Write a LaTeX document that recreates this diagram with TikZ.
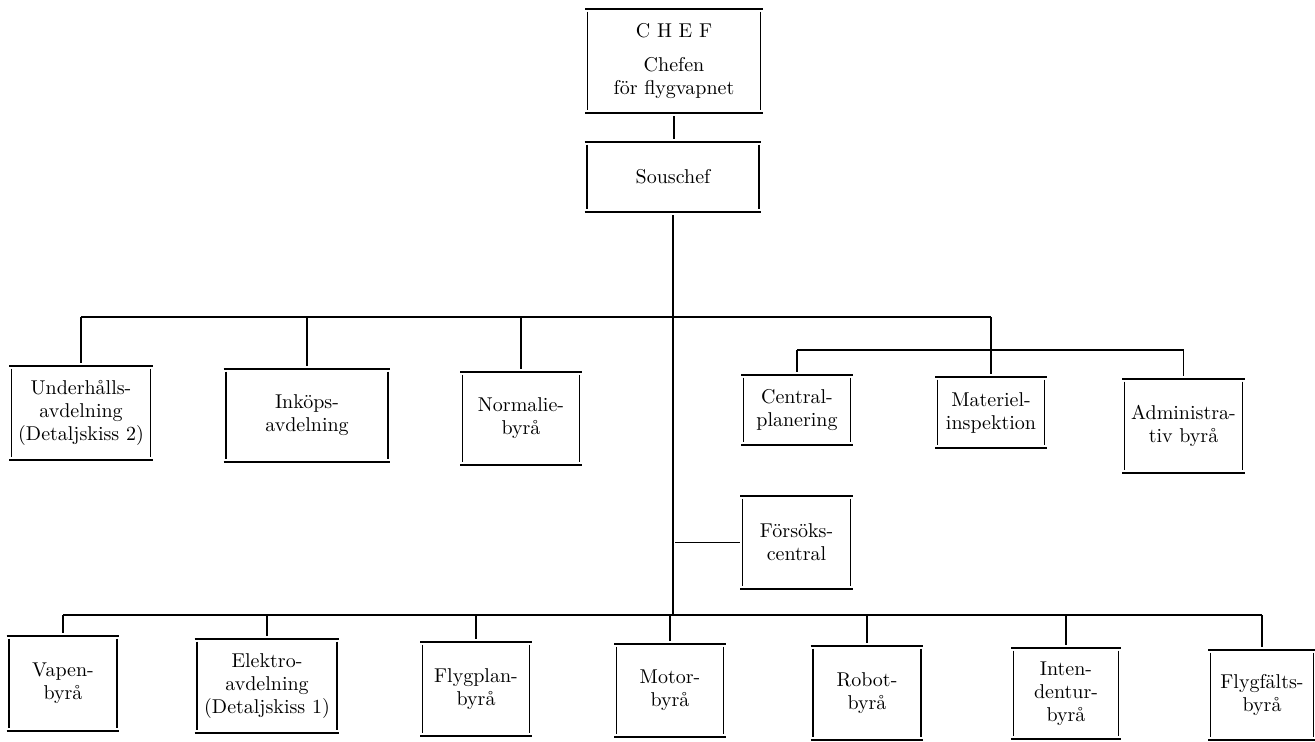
\documentclass[tikz,border=0pt]{standalone}
\usepackage{fontspec}
\begin{document}
\begin{tikzpicture}[x=0.5pt,y=-0.5pt,
  orgbox/.style={draw=none, inner sep=0pt, align=center,
    font=\fontsize{10}{11.5}\selectfont},
  hl/.style={line width=1pt},
  vl/.style={line width=0.8pt},
  conn/.style={line width=0.8pt},
  bus/.style={line width=1pt}]
\useasboundingbox (0,0) rectangle (1315,741);
% nodes
\node[orgbox, minimum width=86pt, minimum height=52pt] (chef) at (674,61) {C H E F\\[5.5pt]Chefen\\för flygvapnet};
\node[orgbox, minimum width=85.5pt, minimum height=35pt] (sous) at (673,177) {Souschef};
\node[orgbox, minimum width=69pt, minimum height=47pt] (underh) at (81,413) {Underhålls-\\avdelning\\(Detaljskiss 2)};
\node[orgbox, minimum width=80.5pt, minimum height=46.5pt] (inkop) at (307,415.5) {Inköps-\\avdelning};
\node[orgbox, minimum width=58pt, minimum height=46.5pt] (normal) at (521,418.5) {Normalie-\\byrå};
\node[orgbox, minimum width=53pt, minimum height=35pt] (central) at (797,410) {Central-\\planering};
\node[orgbox, minimum width=53pt, minimum height=35.5pt] (mat) at (991,412.5) {Materiel-\\inspektion};
\node[orgbox, minimum width=58.5pt, minimum height=47pt] (admin) at (1183.5,426) {Administra-\\tiv byrå};
\node[orgbox, minimum width=53.5pt, minimum height=46.5pt] (fors) at (796.5,542.5) {Försöks-\\central};
\node[orgbox, minimum width=53.5pt, minimum height=47.5pt] (vapen) at (63,683.5) {Vapen-\\byrå};
\node[orgbox, minimum width=69.5pt, minimum height=47pt] (elektro) at (267,686) {Elektro-\\avdelning\\(Detaljskiss 1)};
\node[orgbox, minimum width=53pt, minimum height=47pt] (flygplan) at (476,689) {Flygplan-\\byrå};
\node[orgbox, minimum width=53pt, minimum height=46.5pt] (motor) at (670,690.5) {Motor-\\byrå};
\node[orgbox, minimum width=53.5pt, minimum height=47pt] (robot) at (867,693) {Robot-\\byrå};
\node[orgbox, minimum width=52pt, minimum height=45.5pt] (intend) at (1066,693.5) {Inten-\\dentur-\\byrå};
\node[orgbox, minimum width=51pt, minimum height=45pt] (flygf) at (1262,695) {Flygfälts-\\byrå};
% box outlines: long top/bottom rules, slightly short side rules
\foreach \n in {chef,sous,underh,inkop,normal,central,mat,admin,fors,vapen,elektro,flygplan,motor,robot,intend,flygf}{
  \draw[hl] ([xshift=-1.2pt]\n.north west) -- ([xshift=1.2pt]\n.north east);
  \draw[hl] ([xshift=-1.2pt]\n.south west) -- ([xshift=1.2pt]\n.south east);
  \draw[vl] ([yshift=-1.5pt]\n.north west) -- ([yshift=1.5pt]\n.south west);
  \draw[vl] ([yshift=-1.5pt]\n.north east) -- ([yshift=1.5pt]\n.south east);
}
% bus coordinates
\coordinate (tb) at (0,317);
\coordinate (sb) at (0,350);
\coordinate (bb) at (0,615);
% chain at top
\draw[conn] ([yshift=-1.5pt]chef.south) -- ([yshift=1.5pt]chef.south |- sous.north);
\draw[conn] ([yshift=-1.5pt]sous.south) -- (sous.south |- bb);
% top bus
\draw[bus] (underh.north |- tb) -- (mat.north |- tb);
\foreach \n in {underh,inkop,normal}{
  \draw[conn] (\n.north |- tb) -- ([yshift=1.5pt]\n.north);
}
\draw[conn] (mat.north |- tb) -- ([yshift=1.5pt]mat.north);
% sub bus
\draw[bus] (central.north |- sb) -- (admin.north |- sb);
\foreach \n in {central,admin}{
  \draw[conn] (\n.north |- sb) -- ([yshift=1.5pt]\n.north);
}
% Försökscentral
\draw[conn] ([xshift=1pt]sous.south |- fors.west) -- ([xshift=-1.5pt]fors.west);
% bottom bus
\draw[bus] (vapen.north |- bb) -- (flygf.north |- bb);
\foreach \n in {vapen,elektro,flygplan,motor,robot,intend,flygf}{
  \draw[conn] (\n.north |- bb) -- ([yshift=1.5pt]\n.north);
}
\end{tikzpicture}
\end{document}
